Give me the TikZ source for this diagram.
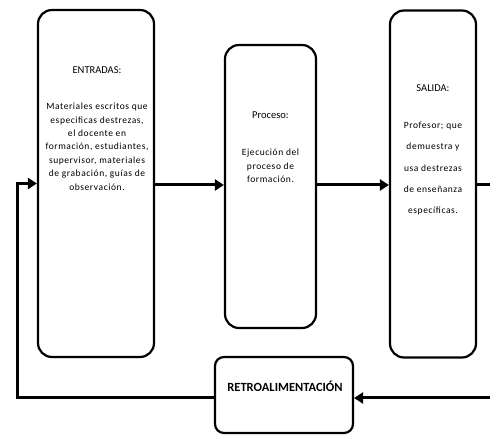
\documentclass[tikz,border=0pt]{standalone}
\usepackage{fontspec}
\setmainfont{Carlito}
\usetikzlibrary{arrows.meta}

\begin{document}
\begin{tikzpicture}[x=1pt,y=-1pt,
    caja/.style={draw,line width=2.2pt,rounded corners=14pt,inner sep=0pt},
    titulo/.style={font=\fontsize{10.5}{13}\selectfont,inner sep=0pt},
    texto/.style={font=\fontsize{9.5}{13.4}\selectfont\addfontfeature{LetterSpace=6},align=center,inner sep=0pt},
    linea/.style={line width=3pt},
    flecha/.style={line width=3pt,-{Triangle[length=9pt,width=11pt]}}]
  \useasboundingbox (0,0) rectangle (490,435);
  % cajas
  \node[caja,minimum width=116pt,minimum height=347pt] (entradas) at (96,183.5) {};
  \node[caja,minimum width=91pt,minimum height=283pt] (proceso) at (270.5,186.5) {};
  \node[caja,minimum width=86pt,minimum height=347pt] (salida) at (433,184) {};
  \node[caja,minimum width=138pt,minimum height=76pt,rounded corners=9pt] (retro) at (284,395) {};
  % textos
  \node[titulo] (entradas-tit) at (97,70) {ENTRADAS:};
  \node[texto,anchor=north] (entradas-txt) at (97,103) {Materiales escritos que\\especificas destrezas,\\el docente en\\formación, estudiantes,\\supervisor, materiales\\de grabación, guías de\\observación.};
  \node[titulo] (proceso-tit) at (270.5,115) {Proceso:};
  \node[texto,anchor=north] (proceso-txt) at (270.5,149) {Ejecución del\\proceso de\\formación.};
  \node[titulo] (salida-tit) at (433,88) {SALIDA:};
  \node[texto,anchor=north,font=\fontsize{9.5}{21.2}\selectfont\addfontfeature{LetterSpace=6}] (salida-txt) at (433,122) {Profesor; que\\demuestra y\\usa destrezas\\de enseñanza\\específicas.};
  \node[font=\fontsize{12.5}{14}\bfseries,inner sep=0pt] (retro-txt) at (285,386) {RETROALIMENTACIÓN};
  % conectores
  \coordinate (borde-sup) at (490,185);
  \coordinate (borde-inf) at (490,398);
  \coordinate (esquina) at (17,398);
  \draw[flecha] (entradas.east |- borde-sup) -- (proceso.west |- borde-sup);
  \draw[flecha] (proceso.east |- borde-sup) -- (salida.west |- borde-sup);
  \draw[linea] (salida.east |- borde-sup) -- (borde-sup);
  \draw[flecha] (borde-inf) -- (retro.east |- borde-inf);
  \draw[flecha] (retro.west |- borde-inf) -- (esquina) -- (esquina |- entradas.west) -- (entradas.west);
\end{tikzpicture}
\end{document}
